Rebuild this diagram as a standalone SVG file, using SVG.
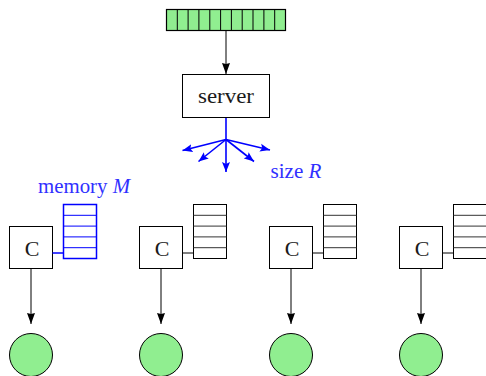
<svg xmlns="http://www.w3.org/2000/svg" width="486" height="376" viewBox="0 0 486 376">
  <style>
    .box { fill: #ffffff; stroke: #000000; stroke-width: 1; }
    .ln { fill: none; stroke: #000000; stroke-width: 1; }
    .mem { fill: #ffffff; stroke: #000000; stroke-width: 1; }
    .mem-hi { fill: #ffffff; stroke: #0000ff; stroke-width: 1.5; }
    .row { stroke: #333333; stroke-width: 1; }
    .row-hi { stroke: #0000ff; stroke-width: 1; }
    .edge { fill: none; stroke: #000000; stroke-width: 1; }
    .edge-hi { fill: none; stroke: #0000ff; stroke-width: 1.5; }
    .bcast { fill: none; stroke: #0000ff; stroke-width: 1.6; }
    .label { font-family: 'Liberation Serif', 'Times New Roman', serif; font-size: 22px; fill: #1a1a1a; }
    .blue { font-family: 'Liberation Serif', 'Times New Roman', serif; font-size: 21px; fill: #3030ff; }
    .client-out { fill: #90ee90; stroke: #000000; stroke-width: 1; }
    .queue-cell { fill: #90ee90; stroke: #000000; stroke-width: 1.2; }
  </style>
  <defs>
    <marker id="arrow" markerUnits="userSpaceOnUse" markerWidth="12" markerHeight="9" refX="11" refY="4.5" orient="auto">
      <path d="M0,0.5 L11,4.5 L0,8.5 L1,4.5 Z" fill="#000000"/>
    </marker>
    <marker id="arrow-blue" markerUnits="userSpaceOnUse" markerWidth="11" markerHeight="9" refX="10" refY="4.5" orient="auto">
      <path d="M0,0.5 L10,4.5 L0,8.5 L2,4.5 Z" fill="#0000ff"/>
    </marker>
  </defs>

  <!-- request queue feeding the server -->
  <g id="queue">
    <rect class="queue-cell" x="166.5" y="9.5" width="119" height="21"/>
    <path class="ln" d="M177.3,9.5V30.5 M188.1,9.5V30.5 M198.9,9.5V30.5 M209.8,9.5V30.5 M220.6,9.5V30.5 M231.4,9.5V30.5 M242.2,9.5V30.5 M253.0,9.5V30.5 M263.9,9.5V30.5 M274.7,9.5V30.5"/>
  </g>

  <!-- server -->
  <g id="server">
    <rect class="box" x="182.5" y="74.5" width="87" height="43"/>
    <text class="label" x="226" y="102.7" text-anchor="middle" font-size="23" textLength="56" lengthAdjust="spacingAndGlyphs">server</text>
  </g>

  <!-- clients, each with a local memory -->
  <g id="client1">
    <rect class="box" x="9.5" y="226.5" width="43" height="42"/>
    <text class="label" x="32" y="256" text-anchor="middle">C</text>
  </g>
  <g id="memory1">
    <rect class="mem-hi" x="63.5" y="204.5" width="33" height="54"/>
    <path class="row-hi" d="M63.5,215.3H96.5 M63.5,226.1H96.5 M63.5,236.9H96.5 M63.5,247.7H96.5"/>
  </g>
  <g id="output1">
    <circle class="client-out" cx="31" cy="355" r="21.5"/>
  </g>

  <g id="client2">
    <rect class="box" x="139.5" y="226.5" width="43" height="42"/>
    <text class="label" x="162" y="256" text-anchor="middle">C</text>
  </g>
  <g id="memory2">
    <rect class="mem" x="193.5" y="204.5" width="33" height="54"/>
    <path class="row" d="M193.5,215.3H226.5 M193.5,226.1H226.5 M193.5,236.9H226.5 M193.5,247.7H226.5"/>
  </g>
  <g id="output2">
    <circle class="client-out" cx="161" cy="355" r="21.5"/>
  </g>

  <g id="client3">
    <rect class="box" x="269.5" y="226.5" width="43" height="42"/>
    <text class="label" x="292" y="256" text-anchor="middle">C</text>
  </g>
  <g id="memory3">
    <rect class="mem" x="323.5" y="204.5" width="33" height="54"/>
    <path class="row" d="M323.5,215.3H356.5 M323.5,226.1H356.5 M323.5,236.9H356.5 M323.5,247.7H356.5"/>
  </g>
  <g id="output3">
    <circle class="client-out" cx="291" cy="355" r="21.5"/>
  </g>

  <g id="client4">
    <rect class="box" x="399.5" y="226.5" width="43" height="42"/>
    <text class="label" x="422" y="256" text-anchor="middle">C</text>
  </g>
  <g id="memory4">
    <rect class="mem" x="453.5" y="204.5" width="33" height="54"/>
    <path class="row" d="M453.5,215.3H486.5 M453.5,226.1H486.5 M453.5,236.9H486.5 M453.5,247.7H486.5"/>
  </g>
  <g id="output4">
    <circle class="client-out" cx="421" cy="355" r="21.5"/>
  </g>

  <!-- labels -->
  <g id="labels">
    <text class="blue" x="38" y="192.7" textLength="92" lengthAdjust="spacingAndGlyphs">memory <tspan font-style="italic">M</tspan></text>
    <text class="blue" x="270.5" y="177.7" textLength="51" lengthAdjust="spacingAndGlyphs">size <tspan font-style="italic">R</tspan></text>
  </g>

  <!-- connectors -->
  <g id="connectors">
    <line class="edge" x1="226" y1="31" x2="226" y2="74" marker-end="url(#arrow)"/>

    <line class="bcast" x1="226" y1="118" x2="226" y2="139.5"/>
    <line class="bcast" x1="226" y1="139.5" x2="182.5" y2="150.5" marker-end="url(#arrow-blue)"/>
    <line class="bcast" x1="226" y1="139.5" x2="198.5" y2="161.5" marker-end="url(#arrow-blue)"/>
    <line class="bcast" x1="226" y1="139.5" x2="226" y2="172" marker-end="url(#arrow-blue)"/>
    <line class="bcast" x1="226" y1="139.5" x2="254" y2="161.5" marker-end="url(#arrow-blue)"/>
    <line class="bcast" x1="226" y1="139.5" x2="270" y2="150" marker-end="url(#arrow-blue)"/>

    <line class="edge-hi" x1="52.5" y1="253" x2="63.5" y2="253"/>
    <line class="edge" x1="182.5" y1="253" x2="193.5" y2="253"/>
    <line class="edge" x1="312.5" y1="253" x2="323.5" y2="253"/>
    <line class="edge" x1="442.5" y1="253" x2="453.5" y2="253"/>

    <line class="edge" x1="31" y1="269" x2="31" y2="324" marker-end="url(#arrow)"/>
    <line class="edge" x1="161" y1="269" x2="161" y2="324" marker-end="url(#arrow)"/>
    <line class="edge" x1="291" y1="269" x2="291" y2="324" marker-end="url(#arrow)"/>
    <line class="edge" x1="421" y1="269" x2="421" y2="324" marker-end="url(#arrow)"/>
  </g>
</svg>
